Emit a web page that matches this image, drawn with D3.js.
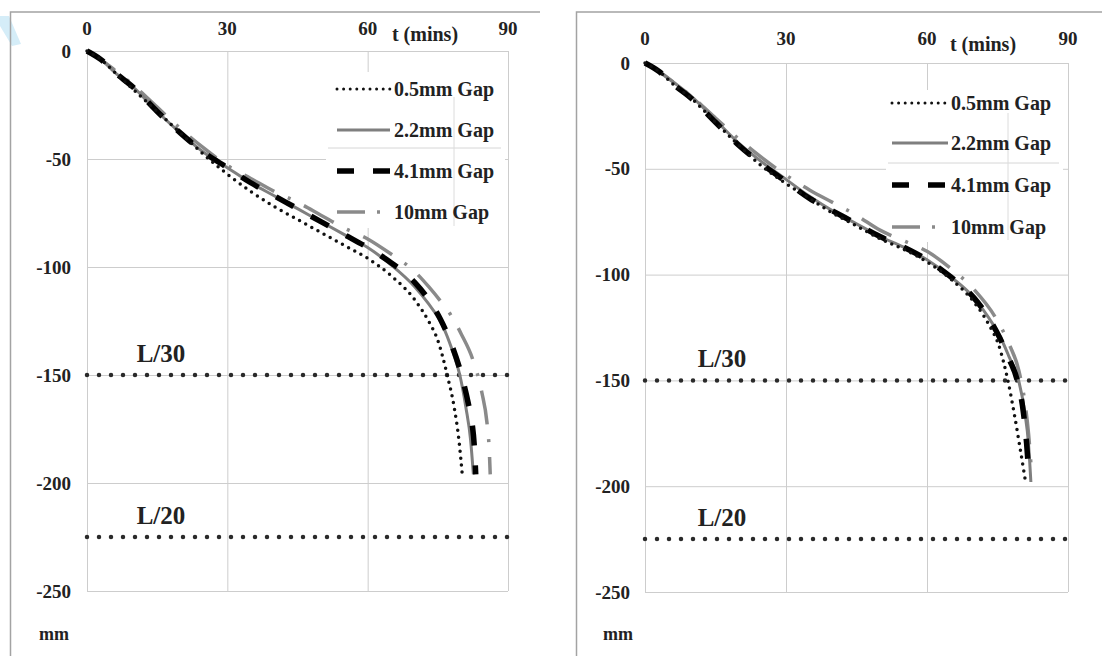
<!DOCTYPE html>
<html>
<head>
<meta charset="utf-8">
<script src="https://cdn.jsdelivr.net/npm/d3@7"></script>
<style>
  body { margin: 0; background: #fff; }
  svg { display: block; font-family: 'Liberation Serif', 'Times New Roman', serif; font-weight: bold; }
</style>
</head>
<body>
<script>
const tickValuesX = [0, 30, 60, 90];
const tickValuesY = [0, -50, -100, -150, -200, -250];
const seriesNames = ['0.5mm Gap', '2.2mm Gap', '4.1mm Gap', '10mm Gap'];
const limitLabels = ['L/30', 'L/20'];
const limitValues = [-150, -225];

// left panel, [t (mins), deflection (mm)]
const leftGap05 = [[0, 0], [3, -4], [6, -10], [10, -18], [15, -28], [20, -38], [25, -48], [30, -57], [35, -65], [40, -72], [45, -78], [50, -84], [55, -90], [60, -96], [65, -104], [70, -115], [73, -125], [75, -134], [77, -150], [78.5, -165], [79.5, -180], [80.3, -198]];
const leftGap22 = [[0, 0], [3, -4], [6, -10], [10, -17], [15, -28], [20, -38], [25, -47], [30, -54], [35, -61], [40, -67], [45, -73], [50, -79], [55, -85], [60, -91], [65, -99], [70, -109], [73, -117], [76, -127], [78, -138], [79.7, -150], [81, -165], [82, -180], [82.6, -196]];
const leftGap41 = [[0, 0], [3, -4], [6, -10], [10, -17], [15, -28], [20, -38], [25, -47], [30, -54], [35, -61], [40, -67], [45, -73], [50, -79], [55, -85], [60, -91], [65, -98], [70, -107], [73, -115], [75.5, -124], [77.6, -134], [80.3, -152], [81.5, -163], [82.3, -172], [82.8, -183], [83.1, -196]];
const leftGap10 = [[0, 0], [3, -4], [6, -9], [10, -16], [15, -26], [20, -36], [25, -45], [30, -53], [35, -59], [40, -65], [45, -70], [50, -76], [55, -82], [60, -87], [65, -94], [70, -102], [73, -109], [76, -117], [78, -123], [80, -131], [82.5, -143], [84.4, -158], [85.5, -172], [86, -185], [86.2, -196]];

// right panel
const rightGap05 = [[0, 0], [3, -4], [6, -10], [10, -17], [15, -28], [20, -39], [25, -49], [30, -57], [35, -64], [40, -71], [45, -77], [50, -83], [55, -88], [60, -94], [65, -102], [70, -113], [73, -123], [75.5, -135], [77.2, -150], [78.5, -165], [79.8, -182], [80.9, -197]];
const rightGap22 = [[0, 0], [3, -4], [6, -9], [10, -16], [15, -27], [20, -38], [25, -47], [30, -55], [35, -63], [40, -70], [45, -76], [50, -82], [55, -87], [60, -93], [65, -101], [70, -111], [73, -120], [75.5, -129], [77.5, -139], [79.5, -150], [80.8, -165], [81.6, -180], [82.1, -198]];
const rightGap41 = [[0, 0], [3, -4], [6, -10], [10, -17], [15, -28], [20, -39], [25, -48], [30, -56], [35, -64], [40, -70], [45, -76], [50, -82], [55, -87], [60, -93], [65, -101], [70, -111], [73, -120], [75.5, -130], [77.5, -140], [79.2, -150], [80.5, -165], [81.2, -180], [81.7, -196]];
const rightGap10 = [[0, 0], [3, -4], [6, -9], [10, -16], [15, -26], [20, -36], [25, -45], [30, -53], [35, -60], [40, -66], [45, -72], [50, -79], [55, -84], [60, -89], [65, -97], [70, -107], [74.5, -120], [77.5, -133], [79.5, -145], [80.8, -160], [81.6, -175], [82.2, -192]];

const styles = [
  { stroke: '#111', width: 3.5, dash: '0 7', cap: 'round', legendDash: '0 6.6' },
  { stroke: '#7f7f7f', width: 3, dash: null, cap: 'butt', legendDash: null },
  { stroke: '#000', width: 5.5, dash: '20 20', cap: 'butt', legendDash: '17 19' },
  { stroke: '#8a8a8a', width: 3.5, dash: '34 15 3 15', cap: 'butt', legendDash: '28 12 3 30' },
];

const panels = [
  {
    series: [leftGap05, leftGap22, leftGap41, leftGap10],
    x: [87, 508], y: [51, 591],
    tickBase: 35, tLabel: [425, 41], yLabelX: 71,
    legendBox: [326, 72, 179, 156], legendRows: [89, 130, 171, 212], legendLine: [337, 390], legendText: 394,
    artH: 148, artV: [454, 97, 226],
    limitX: 161, mm: [54, 640],
    frame: 'M540,12H10.5V656',
  },
  {
    series: [rightGap05, rightGap22, rightGap41, rightGap10],
    x: [645, 1068], y: [63, 592],
    tickBase: 45, tLabel: [983, 51], yLabelX: 630,
    legendBox: [886, 90, 177, 152], legendRows: [103, 143, 185, 227], legendLine: [892, 948], legendText: 951,
    artH: 163, artV: [1008, 113, 240],
    limitX: 722, mm: [618, 640],
    frame: 'M1102,12H576.5V656',
  },
];

const svg = d3.select('body').append('svg')
  .attr('width', 1102)
  .attr('height', 656);

// faint watermark fragment at the top left edge
svg.append('path')
  .attr('d', 'M0,16 L9,16 L21,44 L12,46 L0,26 Z')
  .attr('fill', '#d5edf8');

panels.forEach((p) => {
  const x = d3.scaleLinear().domain([0, 90]).range(p.x);
  const y = d3.scaleLinear().domain([0, -250]).range(p.y);
  const g = svg.append('g');

  g.append('path')
    .attr('d', p.frame)
    .attr('fill', 'none')
    .attr('stroke', '#a3a3a3')
    .attr('stroke-width', 1.5);

  // gridlines
  g.append('g')
    .call(d3.axisTop(x).tickValues(tickValuesX).tickSize(-(p.y[1] - p.y[0])).tickFormat(''))
    .attr('transform', `translate(0, ${p.y[0]})`)
    .call(a => a.select('.domain').remove())
    .call(a => a.selectAll('line').attr('stroke', '#cdcdcd'));

  g.append('g')
    .call(d3.axisLeft(y).tickValues(tickValuesY).tickSize(-(p.x[1] - p.x[0])).tickFormat(''))
    .attr('transform', `translate(${p.x[0]}, 0)`)
    .call(a => a.select('.domain').remove())
    .call(a => a.selectAll('line').attr('stroke', '#cdcdcd'));

  // tick labels
  g.selectAll('.xl')
    .data(tickValuesX)
    .enter().append('text')
    .attr('x', d => x(d))
    .attr('y', p.tickBase)
    .attr('text-anchor', 'middle')
    .style('font-size', '19px')
    .attr('fill', '#222')
    .text(d => d);

  g.selectAll('.yl')
    .data(tickValuesY)
    .enter().append('text')
    .attr('x', p.yLabelX)
    .attr('y', d => y(d))
    .attr('dy', '0.35em')
    .attr('text-anchor', 'end')
    .style('font-size', '19px')
    .attr('fill', '#222')
    .text(d => d);

  g.append('text')
    .attr('x', p.tLabel[0])
    .attr('y', p.tLabel[1])
    .attr('text-anchor', 'middle')
    .style('font-size', '20px')
    .attr('fill', '#222')
    .text('t (mins)');

  g.append('text')
    .attr('x', p.mm[0])
    .attr('y', p.mm[1])
    .attr('text-anchor', 'middle')
    .style('font-size', '18px')
    .attr('fill', '#222')
    .text('mm');

  // limit lines
  limitValues.forEach((v, i) => {
    g.append('line')
      .attr('x1', p.x[0])
      .attr('x2', p.x[1])
      .attr('y1', y(v))
      .attr('y2', y(v))
      .attr('stroke', '#2a2a2a')
      .attr('stroke-width', 4.5)
      .attr('stroke-linecap', 'round')
      .attr('stroke-dasharray', '0 12');

    g.append('text')
      .attr('x', p.limitX)
      .attr('y', y(v) - 13)
      .attr('text-anchor', 'middle')
      .style('font-size', '25px')
      .attr('fill', '#222')
      .text(limitLabels[i]);
  });

  // legend box (drawn before the curves, covers gridlines)
  g.append('rect')
    .attr('x', p.legendBox[0])
    .attr('y', p.legendBox[1])
    .attr('width', p.legendBox[2])
    .attr('height', p.legendBox[3])
    .attr('fill', '#fff');

  g.append('line')
    .attr('x1', p.legendBox[0] + 2)
    .attr('x2', p.legendBox[0] + p.legendBox[2] - 4)
    .attr('y1', p.artH)
    .attr('y2', p.artH)
    .attr('stroke', '#d6d6d6');

  g.append('line')
    .attr('x1', p.artV[0])
    .attr('x2', p.artV[0])
    .attr('y1', p.artV[1])
    .attr('y2', p.artV[2])
    .attr('stroke', '#dcdcdc');

  const line = d3.line()
    .x(d => x(d[0]))
    .y(d => y(d[1]))
    .curve(d3.curveMonotoneX);

  // draw order: 10mm, 2.2mm, 4.1mm, 0.5mm
  [3, 1, 2, 0].forEach((i) => {
    const s = styles[i];
    g.append('path')
      .datum(p.series[i])
      .attr('d', line)
      .attr('fill', 'none')
      .attr('stroke', s.stroke)
      .attr('stroke-width', s.width)
      .attr('stroke-linecap', s.cap)
      .attr('stroke-dasharray', s.dash);
  });

  seriesNames.forEach((name, i) => {
    const s = styles[i];
    g.append('line')
      .attr('x1', p.legendLine[0])
      .attr('x2', p.legendLine[1])
      .attr('y1', p.legendRows[i])
      .attr('y2', p.legendRows[i])
      .attr('stroke', s.stroke)
      .attr('stroke-width', i === 0 ? 3 : s.width)
      .attr('stroke-linecap', s.cap)
      .attr('stroke-dasharray', s.legendDash);

    g.append('text')
      .attr('x', p.legendText)
      .attr('y', p.legendRows[i])
      .attr('dy', '0.35em')
      .style('font-size', '20px')
      .attr('fill', '#222')
      .text(name);
  });
});
</script>
</body>
</html>
